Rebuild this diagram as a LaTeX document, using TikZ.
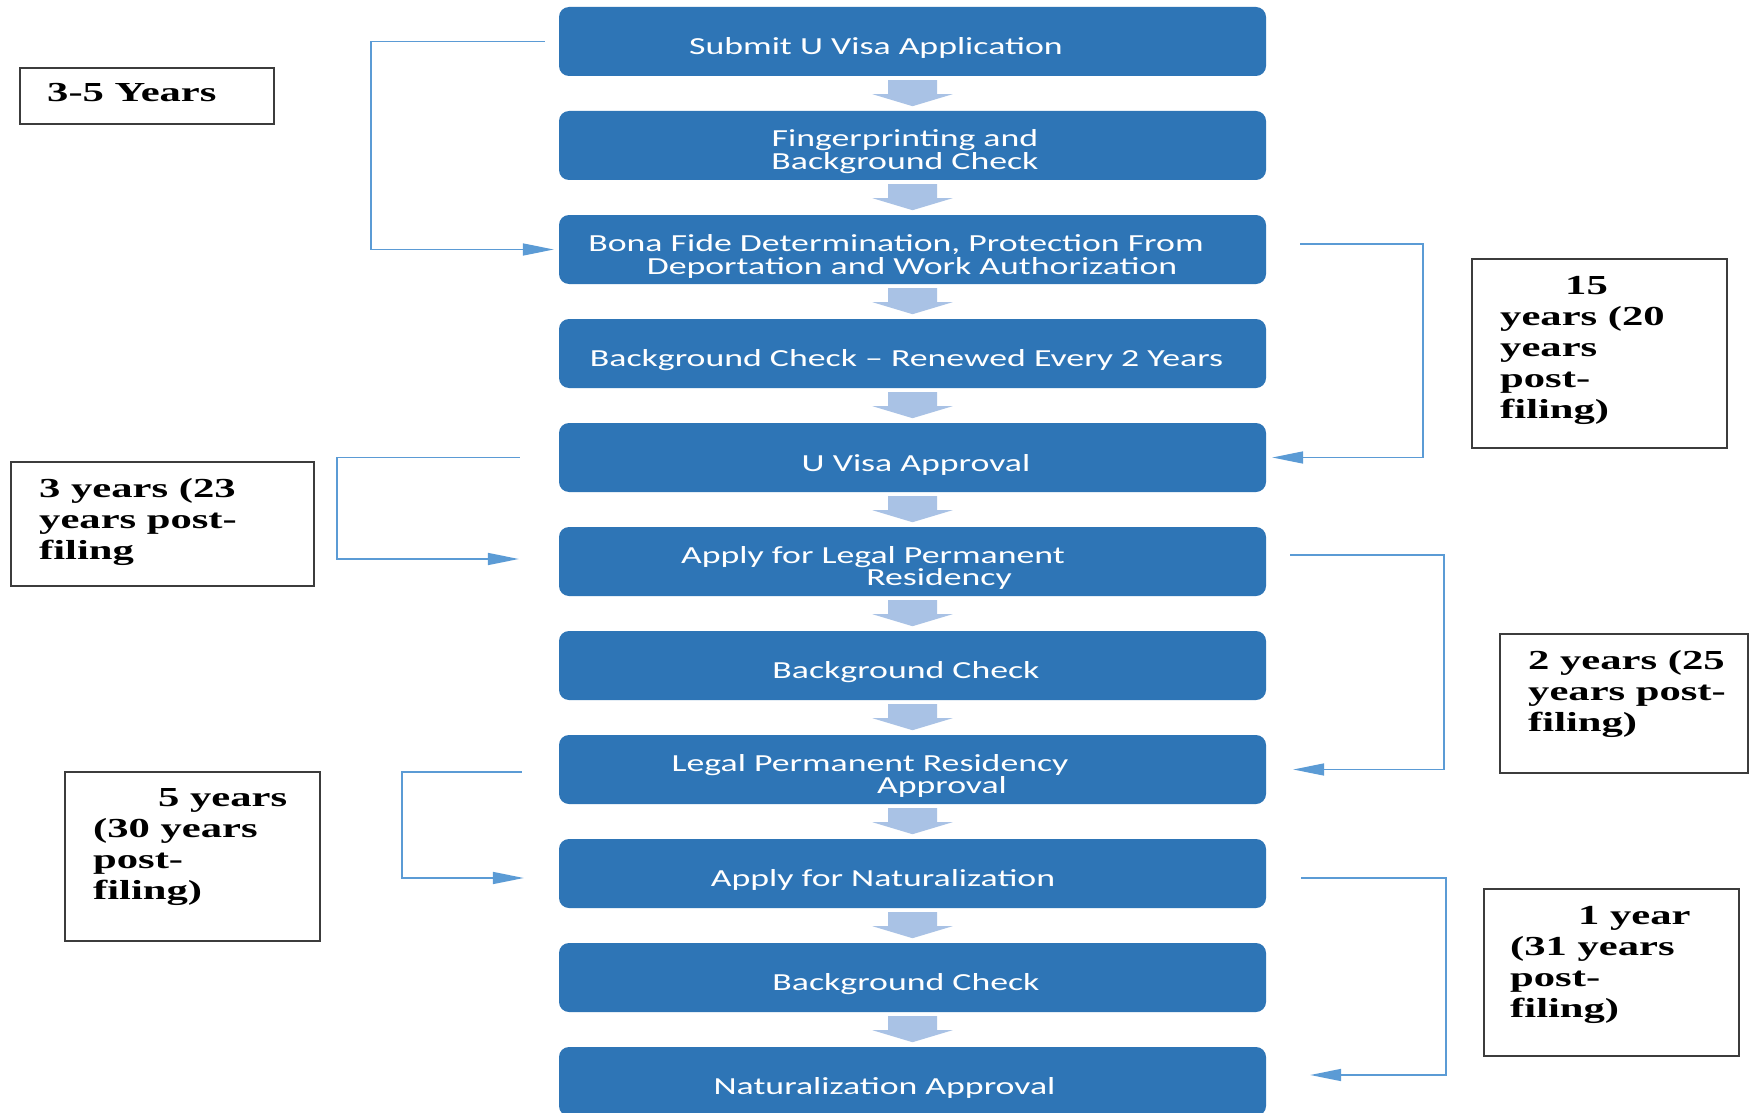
\documentclass[tikz,border=0pt]{standalone}
\usepackage{fontspec}
\setmainfont{Carlito}
\newfontfamily\boxfont[FakeStretch=1.46]{Carlito}
\newfontfamily\sidefont[FakeStretch=1.55]{Liberation Serif}
\usetikzlibrary{arrows.meta,calc}
\definecolor{boxblue}{RGB}{46,117,182}
\definecolor{arrowblue}{RGB}{169,194,229}
\definecolor{linkblue}{RGB}{91,155,213}
\definecolor{framegray}{RGB}{60,60,60}
\begin{document}
\begin{tikzpicture}[x=1pt,y=-1pt,
  stage/.style={fill=boxblue, draw=none, rounded corners=10pt, minimum width=707pt, minimum height=69pt, inner sep=0pt},
  stagetext/.style={text=white, font=\boxfont\fontsize{24.5}{23}\selectfont, anchor=base, inner sep=0pt},
  sidebox/.style={draw=framegray, line width=1.8pt, inner sep=0pt},
  sidetext/.style={font=\sidefont\bfseries\fontsize{27.5}{31}\selectfont, anchor=base west, inner sep=0pt},
  link/.style={draw=linkblue, line width=1.6pt, -{Triangle[length=31pt,width=12pt]}}
]
\fill[white] (0,0) rectangle (1749,1113);
\useasboundingbox (0,0) rectangle (1749,1113);

% stage boxes
\foreach \i in {1,...,11}
  \node[stage] (b\i) at (912.5,{41.5+104*(\i-1)}) {};

% block arrows between stages
\foreach \i in {1,...,10}
  \fill[arrowblue] ($(b\i.south)+(-24.5,4)$) -- ++(49,0) -- ++(0,14) -- ++(15.5,0)
    -- ($(b\i.south)+(0,30)$) -- ($(b\i.south)+(-40,18)$) -- ++(15.5,0) -- cycle;

% stage texts
\node[stagetext] (t1) at (876,55) {Submit U Visa Application};
\node[stagetext] (t2a) at (905,147) {Fingerprinting and};
\node[stagetext] (t2b) at (905,170) {Background Check};
\node[stagetext] (t3a) at (896,251) {Bona Fide Determination, Protection From};
\node[stagetext] (t3b) at (912,274) {Deportation and Work Authorization};
\node[stagetext] (t4) at (906.5,366.5) {Background Check – Renewed Every 2 Years};
\node[stagetext] (t5) at (916,471) {U Visa Approval};
\node[stagetext] (t6a) at (873,563) {Apply for Legal Permanent};
\node[stagetext] (t6b) at (939,585) {Residency};
\node[stagetext] (t7) at (906,678) {Background Check};
\node[stagetext] (t8a) at (870,771) {Legal Permanent Residency};
\node[stagetext] (t8b) at (942,793) {Approval};
\node[stagetext] (t9) at (883,886.5) {Apply for Naturalization};
\node[stagetext] (t10) at (906,990.5) {Background Check};
\node[stagetext] (t11) at (884.5,1094.5) {Naturalization Approval};

% side boxes
\node[sidebox, minimum width=254pt, minimum height=56pt] (sA) at (147,96) {};
\node[sidetext] (sA1) at (47,102) {3-5 Years};

\node[sidebox, minimum width=255pt, minimum height=189pt] (sB) at (1599.5,353.5) {};
\node[sidetext] (sB1) at (1565,294) {15};
\node[sidetext] (sB2) at (1500,325) {years (20};
\node[sidetext] (sB3) at (1500,356) {years};
\node[sidetext] (sB4) at (1500,387) {post-};
\node[sidetext] (sB5) at (1500,418) {filing)};

\node[sidebox, minimum width=303pt, minimum height=124pt] (sC) at (162.5,524) {};
\node[sidetext] (sC1) at (39,497) {3 years (23};
\node[sidetext] (sC2) at (39,528) {years post-};
\node[sidetext] (sC3) at (39,559) {filing};

\node[sidebox, minimum width=248pt, minimum height=139pt] (sD) at (1624,703.5) {};
\node[sidetext] (sD1) at (1528,669) {2 years (25};
\node[sidetext] (sD2) at (1528,700) {years post-};
\node[sidetext] (sD3) at (1528,731) {filing)};

\node[sidebox, minimum width=255pt, minimum height=169pt] (sE) at (192.5,856.5) {};
\node[sidetext] (sE1) at (158,806) {5 years};
\node[sidetext] (sE2) at (93,837) {(30 years};
\node[sidetext] (sE3) at (93,868) {post-};
\node[sidetext] (sE4) at (93,899) {filing)};

\node[sidebox, minimum width=255pt, minimum height=167pt] (sF) at (1611.5,972.5) {};
\node[sidetext] (sF1) at (1578,924) {1 year};
\node[sidetext] (sF2) at (1510,955) {(31 years};
\node[sidetext] (sF3) at (1510,986) {post-};
\node[sidetext] (sF4) at (1510,1017) {filing)};

% bracket connectors
\draw[link, shorten <=14pt, shorten >=5pt] (b1.west) -- ++(-188,0) |- (b3.west);
\draw[link, shorten <=34pt, shorten >=6pt] ($(b3.east)+(0,-5.5)$) -- ++(157,0) |- (b5.east);
\draw[link, shorten <=39pt, shorten >=40pt] (b5.west) -- ++(-222,0) |- ($(b6.west)+(0,-2.5)$);
\draw[link, shorten <=24pt, shorten >=27pt] ($(b6.east)+(0,-6.5)$) -- ++(178,0) |- (b8.east);
\draw[link, shorten <=37pt, shorten >=35pt] ($(b8.west)+(0,2.5)$) -- ++(-157,0) |- ($(b9.west)+(0,4.5)$);
\draw[link, shorten <=35pt, shorten >=44pt] ($(b9.east)+(0,4.5)$) -- ++(180,0) |- ($(b11.east)+(0,-6.5)$);
\end{tikzpicture}
\end{document}
